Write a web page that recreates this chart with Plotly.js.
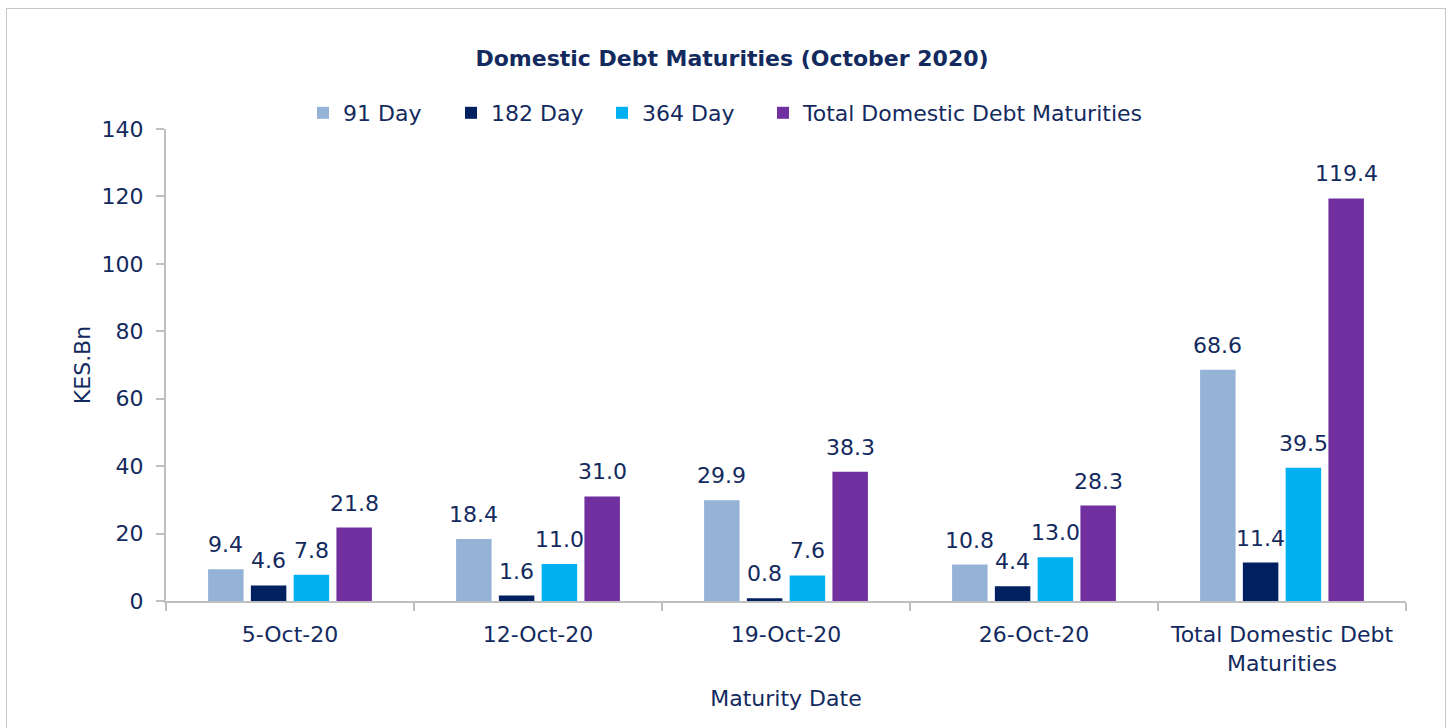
<!DOCTYPE html>
<html>
<head>
<meta charset="utf-8">
<script src="https://cdn.plot.ly/plotly-3.0.1.min.js"></script>
<style>
  html, body { margin: 0; padding: 0; background: #fff; }
  #wrap { position: relative; width: 1452px; height: 728px; overflow: hidden; }
  #chart { width: 1452px; height: 728px; }
  #frame { position: absolute; left: 6px; top: 8px; width: 1440px; height: 740px; border: 1px solid #c8c8c8; pointer-events: none; box-sizing: border-box; }
</style>
</head>
<body>
<div id="wrap"><div id="chart"></div><div id="frame"></div></div>
<script>
// ---- data ----
const categories = ["5-Oct-20", "12-Oct-20", "19-Oct-20", "26-Oct-20", "Total Domestic Debt<br>Maturities"];
const seriesNames = ["91 Day", "182 Day", "364 Day", "Total Domestic Debt Maturities"];
const day91 = [9.4, 18.4, 29.9, 10.8, 68.6];
const day182 = [4.6, 1.6, 0.8, 4.4, 11.4];
const day364 = [7.8, 11.0, 7.6, 13.0, 39.5];
const totalMat = [21.8, 31.0, 38.3, 28.3, 119.4];
const yTicks = [0, 20, 40, 60, 80, 100, 120, 140];

// ---- style ----
const colors = ["#95B3D7", "#002060", "#00B0F0", "#7030A0"];
const textColor = "#132a5e";
const fontFam = "DejaVu Sans, sans-serif";
const fs = 22;
const allSeries = [day91, day182, day364, totalMat];
const legendLeft = [318, 466, 617, 778]; // pixel position of each legend swatch
const legendIds = ["legend", "legend2", "legend3", "legend4"];

const bargap = 0.31, bargroupgap = 0.17;
const margin = {l: 166, r: 46, t: 129, b: 127, autoexpand: false};
const plotW = 1452 - margin.l - margin.r;
const catW = plotW / categories.length;
const slotW = catW * (1 - bargap) / allSeries.length;

const traces = allSeries.map((vals, i) => ({
  type: "bar",
  name: seriesNames[i],
  x: categories,
  y: vals,
  legend: legendIds[i],
  marker: {color: colors[i]},
  hoverinfo: "x+y"
}));

const annotations = [];
allSeries.forEach((vals, i) => {
  vals.forEach((v, j) => {
    annotations.push({
      x: categories[j], y: v, xref: "x", yref: "y",
      text: v.toFixed(1), showarrow: false,
      xanchor: "center", yanchor: "bottom",
      xshift: (i - (allSeries.length - 1) / 2) * slotW,
      yshift: 10,
      font: {family: fontFam, size: fs, color: textColor}
    });
  });
});

const layout = {
  width: 1452, height: 728,
  margin: margin,
  paper_bgcolor: "#fff", plot_bgcolor: "#fff",
  barmode: "group", bargap: bargap, bargroupgap: bargroupgap,
  font: {family: fontFam, size: fs, color: textColor},
  title: {
    text: "<b>Domestic Debt Maturities (October 2020)</b>",
    font: {family: fontFam, size: 22, color: textColor},
    xref: "container", yref: "container",
    x: 732 / 1452, xanchor: "center",
    y: 1 - 58 / 728, yanchor: "middle"
  },
  xaxis: {
    type: "category",
    showline: true, linecolor: "#bfbfbf", linewidth: 2,
    ticks: "outside", tickson: "boundaries", ticklen: 8, tickcolor: "#bfbfbf", tickwidth: 2,
    showgrid: false, zeroline: false,
    ticklabelstandoff: 13,
    tickfont: {family: fontFam, size: fs, color: textColor},
    title: {text: "Maturity Date", font: {family: fontFam, size: fs, color: textColor}, standoff: 16}
  },
  yaxis: {
    range: [0, 140], tickvals: yTicks,
    showline: true, linecolor: "#bfbfbf", linewidth: 2,
    ticks: "outside", ticklen: 8, tickcolor: "#bfbfbf", tickwidth: 2,
    showgrid: false, zeroline: false,
    ticklabelstandoff: 8,
    tickfont: {family: fontFam, size: fs, color: textColor},
    title: {text: "KES.Bn", font: {family: fontFam, size: fs, color: textColor}, standoff: 5}
  },
  annotations: annotations,
  showlegend: true
};
legendIds.forEach((id, i) => {
  layout[id] = {
    orientation: "h",
    xref: "container", yref: "container",
    x: (legendLeft[i] - 15) / 1452, xanchor: "left",
    y: 1 - 113 / 728, yanchor: "middle",
    font: {family: fontFam, size: fs, color: textColor},
    itemwidth: 30, bgcolor: "rgba(0,0,0,0)"
  };
});

Plotly.newPlot("chart", traces, layout, {displayModeBar: false, staticPlot: true});
</script>
</body>
</html>
